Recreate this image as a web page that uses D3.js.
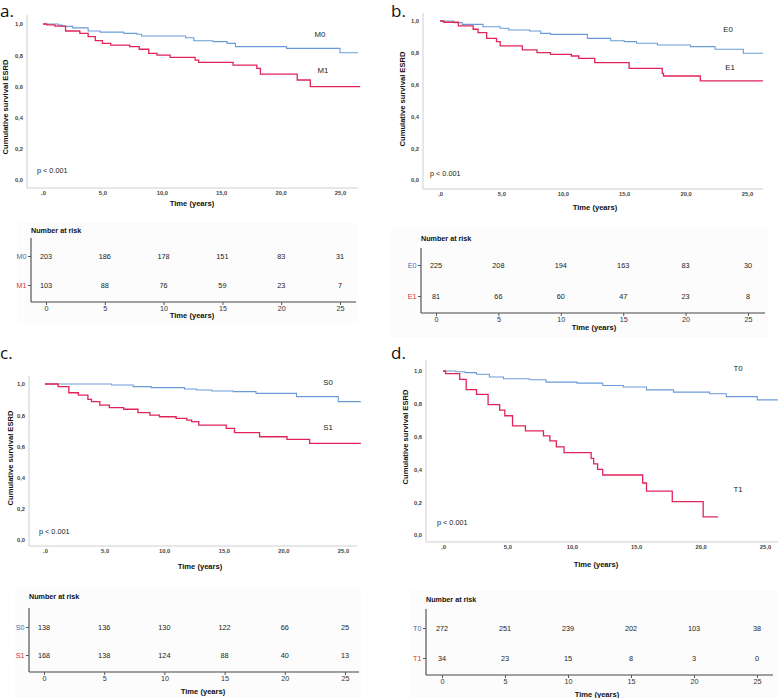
<!DOCTYPE html>
<html><head><meta charset="utf-8">
<script src="https://cdn.jsdelivr.net/npm/d3@7"></script>
<style>body{margin:0;background:#fff} svg{display:block;font-family:"Liberation Sans",Arial,sans-serif}</style>
</head><body><svg id="c" width="780" height="698"></svg>
<script>
// ---------- data ----------
const yTickValues = [0, 0.2, 0.4, 0.6, 0.8, 1.0];
const yTickLabels = ["0,0", "0,2", "0,4", "0,6", "0,8", "1,0"];
const xTickValues = [0, 5, 10, 15, 20, 25];
const xTickLabels = [",0", "5,0", "10,0", "15,0", "20,0", "25,0"];
const riskTimes = [0, 5, 10, 15, 20, 25];

// panel a (M)
const aM0Time = [0, 1.3, 1.6, 2.5, 3.8, 4.8, 6.8, 7.9, 8.3, 12.0, 12.7, 14.3, 15.5, 16.2, 20.5, 25.0, 26.5];
const aM0Surv = [1.0, 0.993, 0.985, 0.975, 0.955, 0.948, 0.94, 0.934, 0.923, 0.912, 0.893, 0.887, 0.876, 0.855, 0.844, 0.816, 0.816];
const aM1Time = [0, 0.3, 1.0, 1.9, 3.1, 3.8, 4.4, 5.0, 5.7, 7.3, 8.1, 8.9, 9.6, 10.7, 12.8, 13.1, 16.0, 18.0, 18.3, 21.4, 22.5, 26.7];
const aM1Surv = [1.0, 0.995, 0.987, 0.955, 0.94, 0.919, 0.893, 0.876, 0.865, 0.855, 0.838, 0.812, 0.801, 0.786, 0.769, 0.754, 0.737, 0.716, 0.679, 0.641, 0.598, 0.598];
const riskM0 = [203, 186, 178, 151, 83, 31];
const riskM1 = [103, 88, 76, 59, 23, 7];

// panel b (E)
const bE0Time = [0, 1.1, 1.8, 3.5, 4.9, 5.6, 7.3, 8.2, 9.0, 12.0, 13.9, 15.0, 16.0, 17.7, 20.4, 22.4, 24.7, 26.3];
const bE0Surv = [1.0, 0.99, 0.979, 0.964, 0.954, 0.943, 0.937, 0.922, 0.916, 0.891, 0.876, 0.87, 0.86, 0.849, 0.839, 0.822, 0.797, 0.797];
const bE1Time = [0, 0.3, 1.5, 2.7, 3.1, 3.8, 4.6, 4.9, 6.7, 7.9, 9.0, 10.7, 11.3, 12.6, 15.4, 18.1, 18.2, 21.2, 26.3];
const bE1Surv = [1.0, 0.992, 0.969, 0.948, 0.927, 0.891, 0.87, 0.843, 0.818, 0.801, 0.79, 0.78, 0.765, 0.738, 0.702, 0.671, 0.654, 0.623, 0.623];
const riskE0 = [225, 208, 194, 163, 83, 30];
const riskE1 = [81, 66, 60, 47, 23, 8];

// panel c (S)
const cS0Time = [0, 5.6, 7.4, 8.9, 11.7, 12.7, 14.0, 15.8, 17.7, 21.1, 24.6, 26.5];
const cS0Surv = [1.0, 0.994, 0.983, 0.977, 0.968, 0.962, 0.955, 0.951, 0.94, 0.919, 0.887, 0.887];
const cS1Time = [0, 1.1, 2.0, 2.8, 3.6, 3.9, 4.6, 5.4, 6.6, 7.8, 8.8, 9.6, 11.0, 11.9, 12.3, 12.9, 15.2, 15.9, 18.0, 20.3, 22.2, 26.5];
const cS1Surv = [1.0, 0.983, 0.944, 0.929, 0.902, 0.887, 0.865, 0.848, 0.838, 0.816, 0.801, 0.79, 0.78, 0.769, 0.759, 0.737, 0.716, 0.688, 0.662, 0.645, 0.62, 0.62];
const riskS0 = [138, 136, 130, 122, 66, 25];
const riskS1 = [168, 138, 124, 88, 40, 13];

// panel d (T)
const dT0Time = [0, 1.0, 1.7, 2.6, 3.6, 4.7, 6.7, 8.0, 10.4, 12.4, 14.0, 15.8, 17.9, 20.7, 22.0, 24.4, 26.0];
const dT0Surv = [1.0, 0.995, 0.99, 0.98, 0.963, 0.953, 0.947, 0.932, 0.926, 0.912, 0.902, 0.885, 0.871, 0.861, 0.844, 0.824, 0.824];
const dT1Time = [0, 0.2, 1.3, 1.8, 2.6, 3.5, 4.4, 4.8, 5.4, 6.4, 7.8, 8.3, 8.8, 9.4, 11.5, 11.7, 12.0, 12.4, 15.5, 15.8, 17.8, 20.2, 21.35];
const dT1Surv = [1.0, 0.984, 0.949, 0.887, 0.857, 0.795, 0.762, 0.727, 0.666, 0.635, 0.604, 0.574, 0.537, 0.502, 0.467, 0.434, 0.4, 0.366, 0.317, 0.268, 0.203, 0.11, 0.11];
const riskT0 = [272, 251, 239, 202, 103, 38];
const riskT1 = [34, 23, 15, 8, 3, 0];

// ---------- drawing ----------
const svg = d3.select("#c");
const BLUE = "#6a9bd8", RED = "#e0245a", LBLUE = "#3f6fb0", LRED = "#e23030";
const AXC = "#cfcfcf";

function panel(c) {
  const g = svg.append("g");
  g.append("text").attr("x", c.lx).attr("y", c.ly)
    .attr("font-family", "'Open Sans',sans-serif").attr("font-size", 17).attr("fill", "#111").text(c.letter);

  const x = d3.scaleLinear().domain([0, 25]).range(c.xr);
  const y = d3.scaleLinear().domain([0, 1]).range(c.yr);

  g.append("line").attr("x1", c.ax).attr("x2", c.ax).attr("y1", c.top).attr("y2", c.bot).attr("stroke", AXC);
  g.append("line").attr("x1", c.ax).attr("x2", c.right).attr("y1", c.bot).attr("y2", c.bot).attr("stroke", AXC);

  const ya = g.append("g").attr("transform", `translate(${c.ax},0)`)
    .call(d3.axisLeft(y).tickValues(yTickValues).tickFormat((d, i) => yTickLabels[i]).tickSize(0).tickPadding(4));
  const xa = g.append("g").attr("transform", `translate(0,${c.bot})`)
    .call(d3.axisBottom(x).tickValues(xTickValues).tickFormat((d, i) => xTickLabels[i]).tickSize(0).tickPadding(3));
  [ya, xa].forEach(a => {
    a.select(".domain").remove();
    a.selectAll("text").attr("font-family", "'Liberation Sans',Arial,sans-serif")
      .attr("font-size", 5.8).attr("font-weight", "bold").attr("fill", "#444");
  });

  const line = d3.line().x(d => x(d[0])).y(d => y(d[1])).curve(d3.curveStepAfter);
  c.series.forEach(s => {
    g.append("path").datum(d3.zip(s.t, s.s)).attr("d", line)
      .attr("fill", "none").attr("stroke", s.color).attr("stroke-width", s.w || 1.1);
    g.append("text").attr("x", s.lab[0]).attr("y", s.lab[1]).attr("dy", "0.35em")
      .attr("text-anchor", "middle").attr("font-size", 7.8).attr("fill", "#222").text(s.name);
  });

  g.append("text").attr("x", c.p[0]).attr("y", c.p[1]).attr("dy", "0.35em")
    .attr("font-size", 7.3).attr("fill", "#222").text("p < 0.001");

  g.append("text").attr("transform", `translate(${c.yt[0]},${c.yt[1]}) rotate(-90)`)
    .attr("dy", "0.35em").attr("text-anchor", "middle").attr("font-size", 7.6).attr("font-weight", "bold")
    .attr("fill", "#111").text("Cumulative survival ESRD");
  g.append("text").attr("x", c.xt[0]).attr("y", c.xt[1]).attr("dy", "0.35em")
    .attr("text-anchor", "middle").attr("font-size", 7.6).attr("font-weight", "bold")
    .attr("fill", "#111").text("Time (years)");

  // risk table
  const r = c.risk;
  g.append("rect").attr("x", r.bg[0]).attr("y", r.bg[1]).attr("width", r.bg[2]).attr("height", r.bg[3]).attr("fill", "#fcfcfc");
  g.append("text").attr("x", r.vx).attr("y", r.title).attr("dy", "0.35em")
    .attr("font-size", 7.2).attr("font-weight", "bold").attr("fill", "#111").text("Number at risk");
  const rx = d3.scaleLinear().domain([0, 25]).range(r.xr);
  const ry = d3.scalePoint().domain(c.series.map(s => s.name)).range(r.rows);
  g.append("line").attr("x1", r.vx).attr("x2", r.vx).attr("y1", r.vtop).attr("y2", r.hy).attr("stroke", "#444").attr("stroke-width", 1.1);
  g.append("line").attr("x1", r.vx).attr("x2", r.hright).attr("y1", r.hy).attr("y2", r.hy).attr("stroke", "#444").attr("stroke-width", 1.1);
  const rxa = g.append("g").attr("transform", `translate(0,${r.hy})`)
    .call(d3.axisBottom(rx).tickValues(riskTimes).tickFormat(d3.format("d")).tickSize(3).tickPadding(1));
  const rya = g.append("g").attr("transform", `translate(${r.vx},0)`)
    .call(d3.axisLeft(ry).tickSize(3).tickPadding(1.5));
  [rxa, rya].forEach(a => {
    a.select(".domain").remove();
    a.selectAll("line").attr("stroke", "#555");
    a.selectAll("text").attr("font-family", "'Liberation Sans',Arial,sans-serif").attr("font-size", 7.2).attr("fill", "#333");
  });
  rya.selectAll("text").attr("fill", (d, i) => i === 0 ? LBLUE : LRED);
  c.series.forEach(s => {
    g.selectAll(null).data(d3.zip(riskTimes, s.risk)).join("text")
      .attr("x", d => rx(d[0])).attr("y", ry(s.name)).attr("dy", "0.35em").attr("text-anchor", "middle")
      .attr("font-size", 7.3).attr("fill", "#222").text(d => d[1]);
  });
  g.append("text").attr("x", r.xt[0]).attr("y", r.xt[1]).attr("dy", "0.35em")
    .attr("text-anchor", "middle").attr("font-size", 7.6).attr("font-weight", "bold")
    .attr("fill", "#111").text("Time (years)");
}

panel({
  letter: "a.", lx: 0, ly: 17,
  ax: 27, top: 15, bot: 188, right: 358, xr: [43, 340], yr: [180, 24],
  p: [37, 170], yt: [5, 107], xt: [192, 203],
  series: [
    { name: "M0", t: aM0Time, s: aM0Surv, color: BLUE, lab: [320, 34], risk: riskM0 },
    { name: "M1", t: aM1Time, s: aM1Surv, color: RED, w: 1.3, lab: [323, 70], risk: riskM1 }
  ],
  risk: { bg: [17, 222, 340, 101], vx: 31, title: 230, vtop: 238, hy: 302, hright: 356, xr: [46, 340], rows: [256, 285], xt: [192, 315] }
});

panel({
  letter: "b.", lx: 391, ly: 17,
  ax: 423, top: 13, bot: 189, right: 763, xr: [440, 747], yr: [180, 21],
  p: [430, 173], yt: [402, 99], xt: [595, 207],
  series: [
    { name: "E0", t: bE0Time, s: bE0Surv, color: BLUE, lab: [728, 29], risk: riskE0 },
    { name: "E1", t: bE1Time, s: bE1Surv, color: RED, w: 1.3, lab: [730, 67], risk: riskE1 }
  ],
  risk: { bg: [390, 228, 378, 110], vx: 421, title: 238, vtop: 248, hy: 313, hright: 765, xr: [436, 748], rows: [265, 296], xt: [594, 327] }
});

panel({
  letter: "c.", lx: 0, ly: 359,
  ax: 29, top: 376, bot: 546, right: 357, xr: [45, 343], yr: [540, 384],
  p: [39, 531], yt: [10, 458], xt: [200, 566],
  series: [
    { name: "S0", t: cS0Time, s: cS0Surv, color: BLUE, lab: [328, 382], risk: riskS0 },
    { name: "S1", t: cS1Time, s: cS1Surv, color: RED, w: 1.3, lab: [328, 427], risk: riskS1 }
  ],
  risk: { bg: [15, 588, 346, 110], vx: 29, title: 596, vtop: 608, hy: 672, hright: 359, xr: [44, 345], rows: [627, 655], xt: [203, 691] }
});

panel({
  letter: "d.", lx: 391, ly: 359,
  ax: 426, top: 360, bot: 542, right: 778, xr: [443, 765], yr: [535, 371],
  p: [437, 522], yt: [405, 437], xt: [596, 564],
  series: [
    { name: "T0", t: dT0Time, s: dT0Surv, color: BLUE, lab: [738, 368], risk: riskT0 },
    { name: "T1", t: dT1Time, s: dT1Surv, color: RED, w: 1.3, lab: [738, 489], risk: riskT1 }
  ],
  risk: { bg: [410, 590, 368, 108], vx: 426, title: 599, vtop: 609, hy: 675, hright: 773, xr: [442, 757], rows: [628, 658], xt: [597, 694] }
});
</script>
</body></html>
